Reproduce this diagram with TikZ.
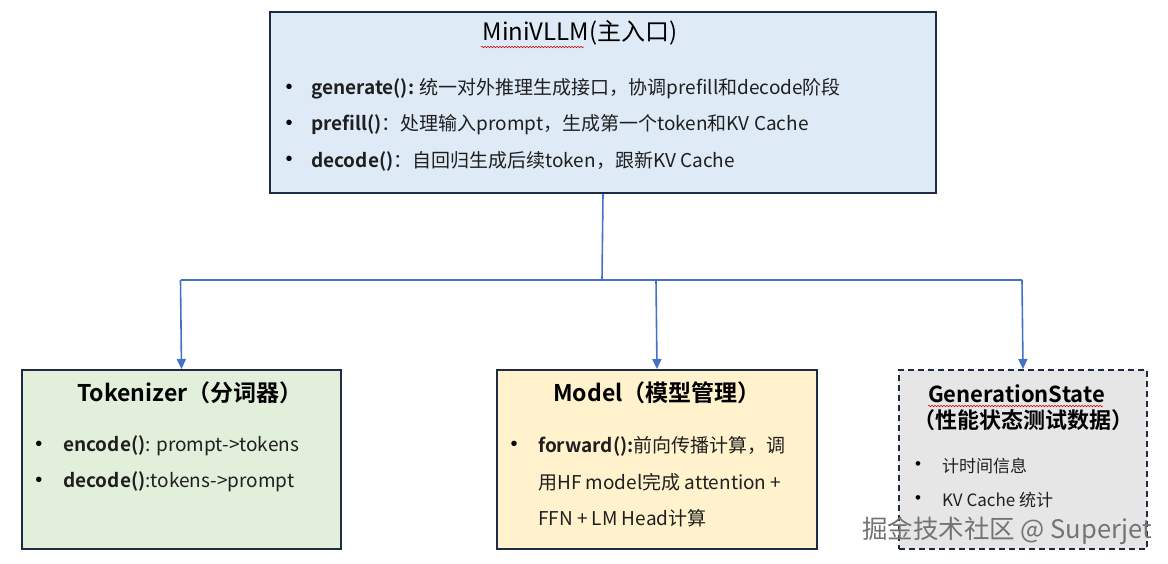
\documentclass[tikz,border=0pt]{standalone}
\usepackage{fontspec}
\setmainfont{Noto Sans CJK SC}[BoldFont={Noto Sans CJK SC Bold}]
\newfontfamily\bulletfont{Liberation Sans}
\usetikzlibrary{arrows.meta,decorations.pathmorphing}
\definecolor{navy}{HTML}{1F2A44}
\definecolor{bluefill}{HTML}{DEEBF7}
\definecolor{greenfill}{HTML}{E2EFDA}
\definecolor{yellowfill}{HTML}{FFF2CC}
\definecolor{grayfill}{HTML}{E7E6E6}
\definecolor{connc}{HTML}{4472C4}
\begin{document}
\begin{tikzpicture}[x=1pt,y=-1pt,
  box/.style={draw=navy, line width=2pt, inner sep=0pt, anchor=north west},
  txt/.style={anchor=west, inner sep=0pt, font=\fontsize{19}{22}\selectfont, text=black!88},
  ttl/.style={inner sep=0pt, font=\fontsize{23}{26}\selectfont\bfseries},
  bul/.style={inner sep=0pt, font=\bulletfont\fontsize{20}{22}\selectfont},
  connline/.style={draw=connc, line width=1.6pt},
  arr/.style={connline, -{Triangle[length=10pt,width=9pt]}},
  squiggle/.style={draw=red!80!black, line width=0.5pt, decorate, decoration={snake, amplitude=0.8pt, segment length=3pt}}]
\useasboundingbox (0,0) rectangle (1168,564);
\fill[white] (0,0) rectangle (1168,564);

% boxes
\node[box, fill=bluefill, minimum width=666pt, minimum height=181pt] (top) at (269,11) {};
\node[box, fill=greenfill, minimum width=319pt, minimum height=179pt] (tok) at (21,369) {};
\node[box, fill=yellowfill, minimum width=320pt, minimum height=179pt] (mod) at (496,369) {};
\node[box, fill=grayfill, dashed, dash pattern=on 6pt off 4pt, minimum width=248pt, minimum height=179pt] (gen) at (898,369) {};

% top box text
\node[inner sep=0pt, font=\fontsize{24}{27}\selectfont] (toptitle) at (580,33) {MiniVLLM(主入口)};
\draw[squiggle] (481,47) -- (584,47);
\node[bul] (b1) at (289,89) {•};
\node[txt] (t1) at (311,89) {\textbf{generate():} 统一对外推理生成接口，协调prefill和decode阶段};
\node[bul] (b2) at (289,125) {•};
\node[txt] (t2) at (311,125) {\textbf{prefill()}：处理输入prompt，生成第一个token和KV Cache};
\node[bul] (b3) at (289,161) {•};
\node[txt] (t3) at (311,161) {\textbf{decode()}：自回归生成后续token，跟新KV Cache};

% tokenizer
\node[ttl] (toktitle) at (190,393) {Tokenizer（分词器）};
\node[bul] (tb1) at (39,446) {•};
\node[txt] (tt1) at (63,446) {\textbf{encode()}: prompt->tokens};
\node[bul] (tb2) at (39,482) {•};
\node[txt] (tt2) at (63,482) {\textbf{decode()}:tokens->prompt};

% model
\node[ttl] (modtitle) at (657,393) {Model（模型管理）};
\node[bul] (mb1) at (514,446) {•};
\node[txt] (mt1) at (538,446) {\textbf{forward():}前向传播计算，调};
\node[txt] (mt2) at (538,482) {用HF model完成 attention +};
\node[txt] (mt3) at (538,518) {FFN + LM Head计算};

% generation state
\node[ttl, anchor=west, font=\fontsize{22}{25}\selectfont\bfseries] (gentitle1) at (928,394) {GenerationState};
\node[ttl, anchor=west, font=\fontsize{22}{25}\selectfont\bfseries] (gentitle2) at (913,420) {（性能状态测试数据）};
\draw[squiggle] (928,406) -- (1103,406);
\node[bul, font=\bulletfont\fontsize{17}{19}\selectfont] (gb1) at (918,466) {•};
\node[txt, font=\fontsize{17}{20}\selectfont] (gt1) at (942,466) {计时间信息};
\node[bul, font=\bulletfont\fontsize{17}{19}\selectfont] (gb2) at (918,500) {•};
\node[txt, font=\fontsize{17}{20}\selectfont] (gt2) at (942,500) {KV Cache 统计};

% connectors
\coordinate (j) at (602,280);
\coordinate (jl) at (180.5,280);
\coordinate (jr) at (1022,280);
\coordinate (jm) at (656,280);
\draw[connline] (top.south) -- (j);
\draw[connline] (jl) -- (jr);
\draw[arr] (jl) -- (tok.north);
\draw[arr] (jm) -- (mod.north);
\draw[arr] (jr) -- (gen.north);

% watermark
\node[anchor=west, inner sep=0pt, font=\fontsize{25.5}{28}\selectfont, text=black!55] (wm) at (862,531) {掘金技术社区 @ Superjet};
\end{tikzpicture}
\end{document}
